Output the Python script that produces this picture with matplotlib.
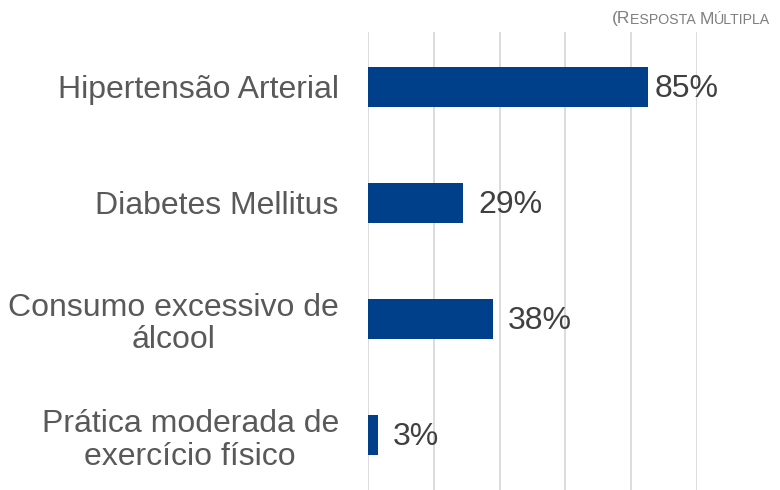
import matplotlib
matplotlib.use("Agg")
import matplotlib.pyplot as plt

categories = ["Hipertensão Arterial", "Diabetes Mellitus",
              "Consumo excessivo de\nálcool", "Prática moderada de\nexercício físico"]
values = [85, 29, 38, 3]
xticks = [0, 20, 40, 60, 80, 100]

plt.rcParams['font.family'] = ['Liberation Sans', 'DejaVu Sans']

fig = plt.figure(figsize=(7.8, 4.9), dpi=100)
ax = fig.add_axes([368/780, 0.0, (697-368)/780, (490-32)/490])

ypos = list(range(len(categories)))
ax.barh(ypos, values, height=0.345, color="#00408A", zorder=3)
ax.set_ylim(len(categories) - 0.53, -0.47)
ax.set_xlim(0, 100)
ax.set_xticks(xticks)
ax.xaxis.grid(True, color="#D9D9D9", linewidth=1.3, zorder=0)
ax.tick_params(axis='x', length=0, labelbottom=False)
ax.tick_params(axis='y', length=0, pad=21)
ax.set_yticks(ypos)
ax.set_yticklabels(categories, fontsize=23, color="#595959", linespacing=1.12)
for lbl in ax.get_yticklabels():
    lbl.set_horizontalalignment('right')
    lbl.set_multialignment('center')
for s in ax.spines.values():
    s.set_visible(False)

# gap (pixels) between bar end and its value label
label_gap_px = [8, 16.5, 16.5, 16]
for y, v, g in zip(ypos, values, label_gap_px):
    ax.annotate(f"{v}%", (v, y), xytext=(g * 0.72 - 1.0, -1.5), textcoords='offset points',
                va='center', ha='left', fontsize=23, color="#404040")

# small caps note
fig.canvas.draw()
r = fig.canvas.get_renderer()
pieces = [("(R", 12.5), ("ESPOSTA ", 10.2), ("M", 12.5), ("ÚLTIPLA", 10.2)]
x = 612
for txt, fs in pieces:
    t = fig.text(x/780, 1 - 23.5/490, txt, fontsize=fs, color="#7F7F7F",
                 ha='left', va='baseline')
    bb = t.get_window_extent(renderer=r)
    x += bb.width

fig.savefig("out.png", dpi=100)
